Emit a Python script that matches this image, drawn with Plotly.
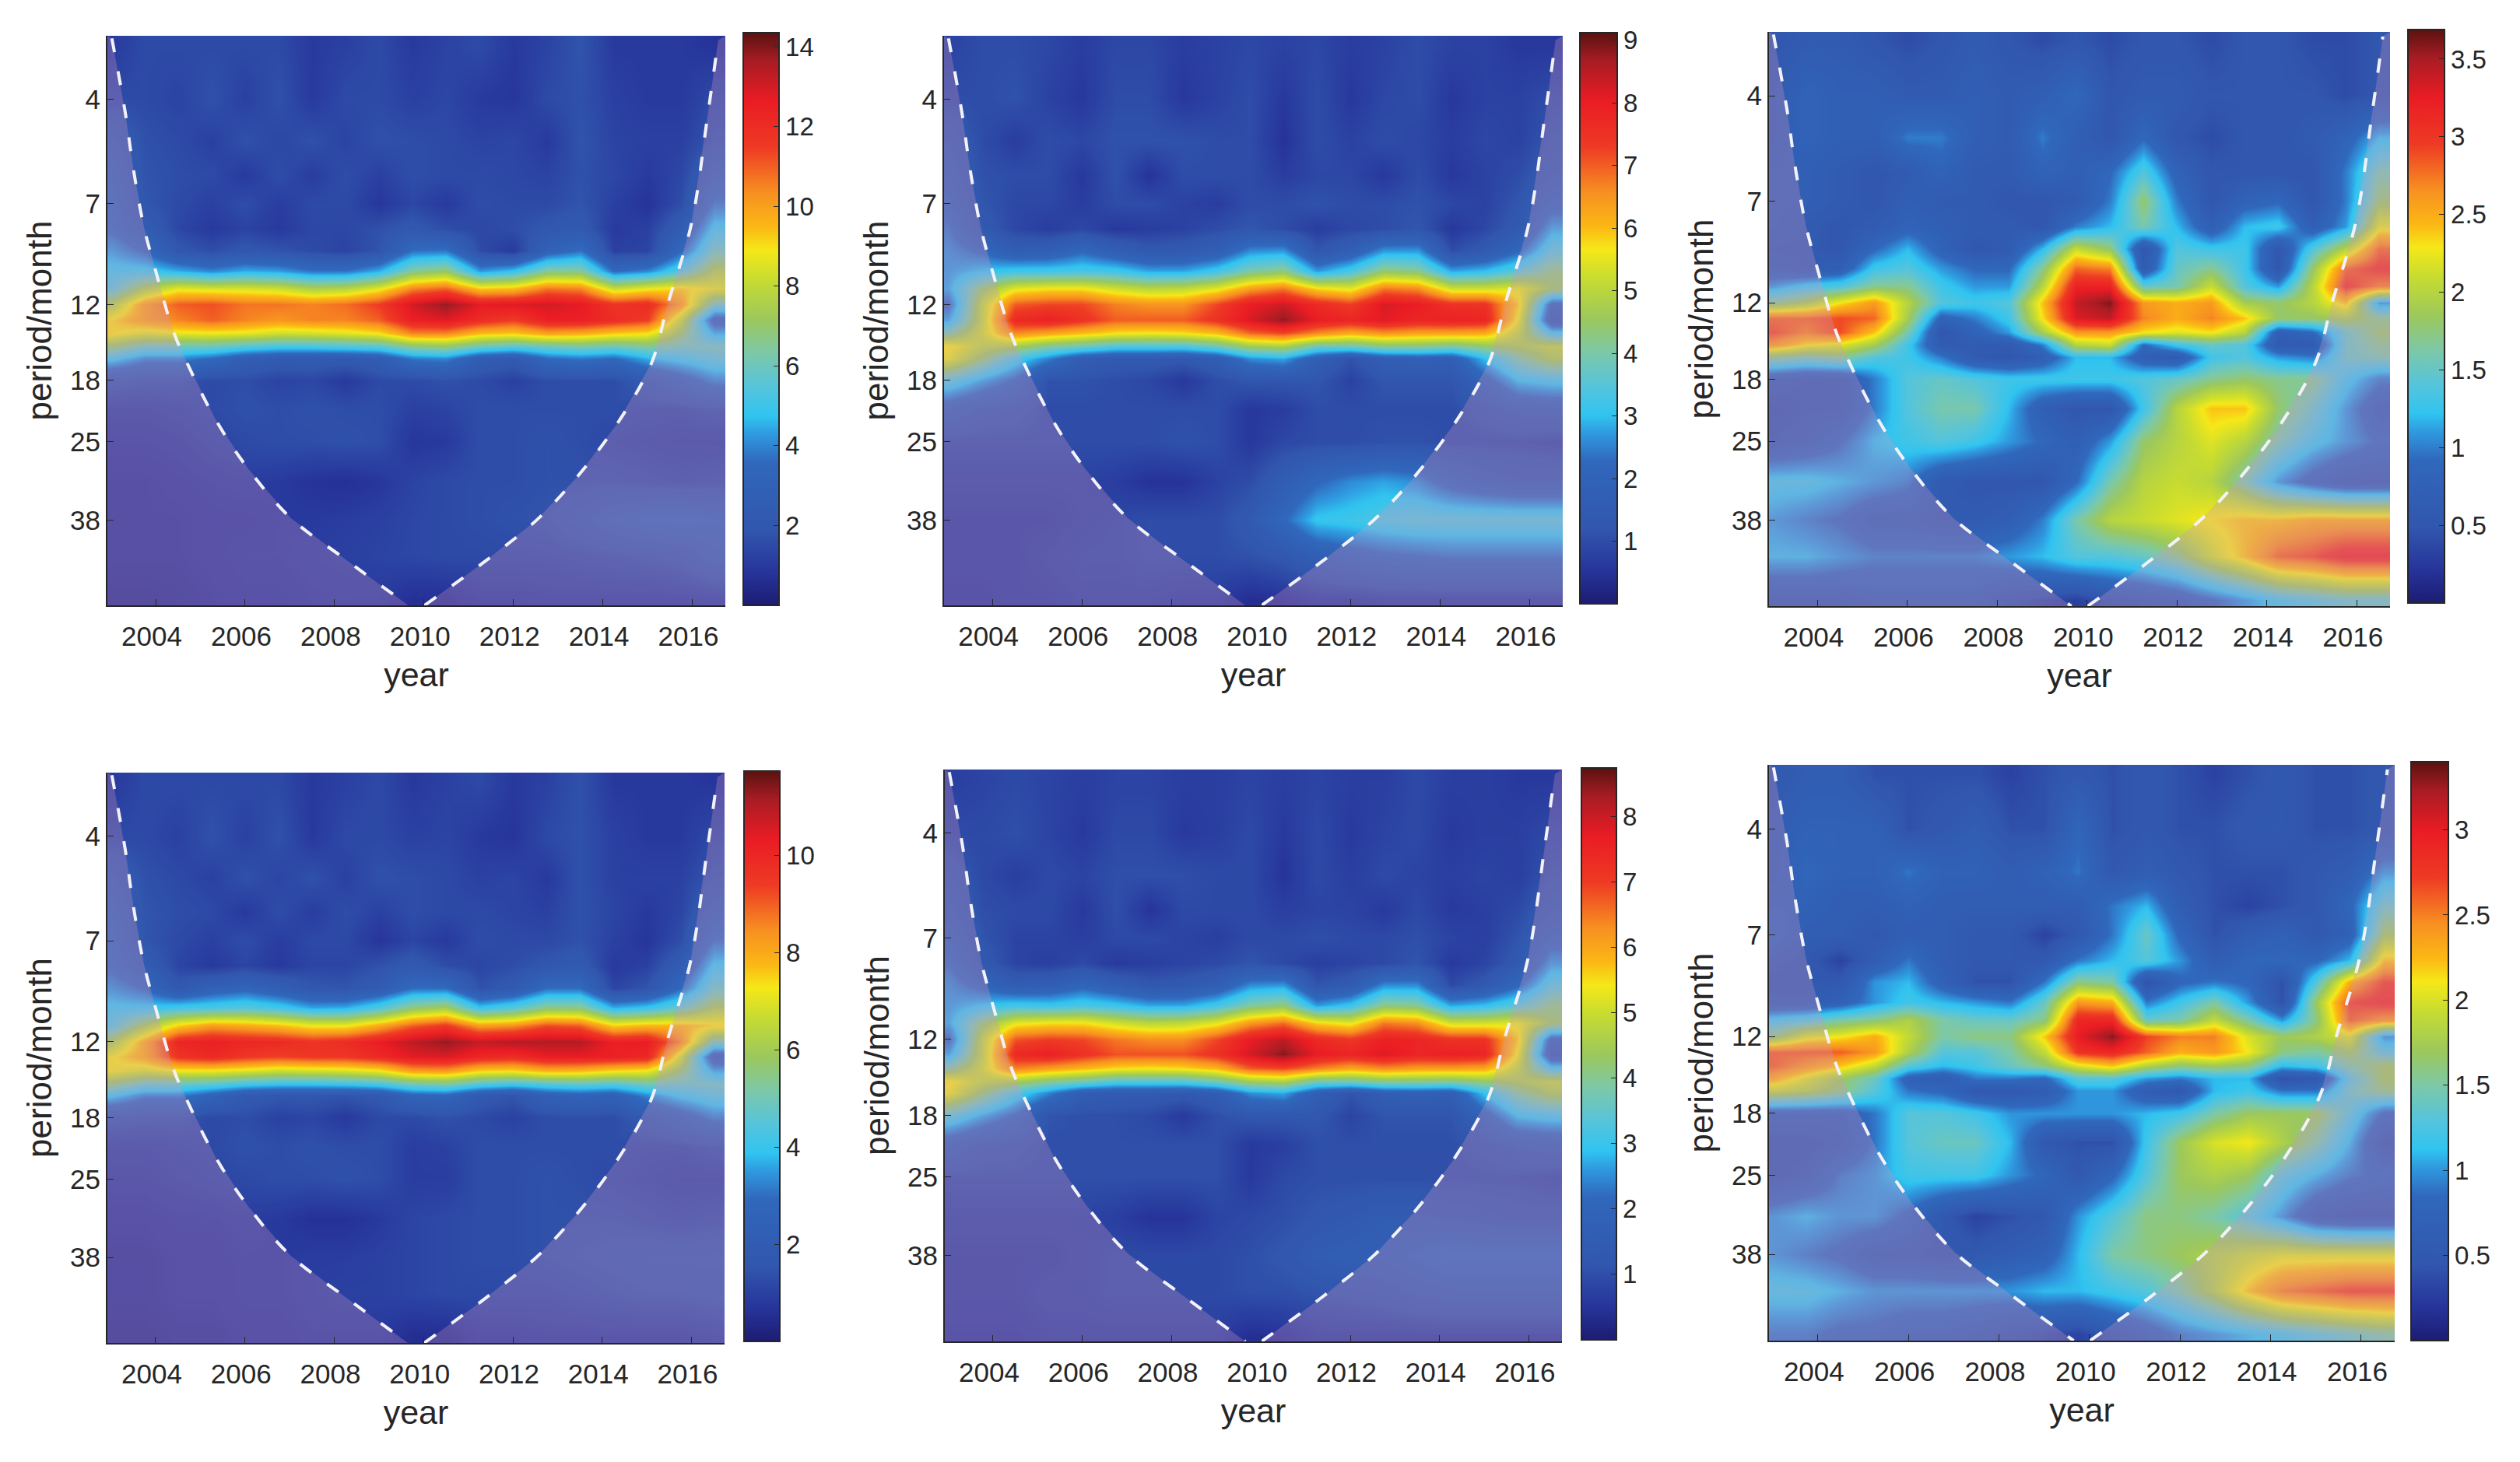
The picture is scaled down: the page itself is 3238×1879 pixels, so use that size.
import plotly.graph_objects as go

W, H = 3238, 1879
years = [2003, 2003.75, 2004.5, 2005.25, 2006, 2006.75, 2007.5, 2008.25, 2009, 2009.75,
         2010.5, 2011.25, 2012, 2012.75, 2013.5, 2014.25, 2015, 2015.75, 2016.5]
periods = [3, 4, 5, 6, 7, 8, 9, 10, 11, 12, 13, 14, 15, 16, 18, 21, 25, 31, 38, 46, 58]
period_ticks = [4, 7, 12, 18, 25, 38]
year_ticks = [2004, 2006, 2008, 2010, 2012, 2014, 2016]

coi_left_years = [2003.02, 2003.32, 2003.5, 2003.74, 2003.98, 2004.39, 2004.69, 2005.35, 2006.07, 2007.02, 2008.22, 2009.65]
coi_left_periods = [2.89, 4.3, 5.8, 7.95, 9.85, 13.8, 16.3, 22.3, 28.9, 37.6, 46.7, 60]
coi_right_years = [2010.01, 2011.32, 2012.52, 2013.41, 2014.31, 2015.09, 2015.45, 2015.98, 2016.34, 2016.58]
coi_right_periods = [60, 47.8, 38, 30.3, 22.8, 16.4, 12, 7.8, 4.4, 2.92]

panel1 = [
 [1,1.5,1.5,1.5,1.5,1.5,1,1.2,1.5,1,1.3,1.5,1,1.3,1.8,1,1,1,.8],
 [1.5,1.5,1.3,1.7,1.2,1.7,1,1.5,1.5,1.2,1.4,1,.9,1.5,1.7,1.2,1,1,1.5],
 [2.5,1.7,1.5,1.2,1.7,1.4,1.7,1.3,1.7,1.6,1.5,1.3,1.4,1,1.8,1.3,1.2,1.2,1.8],
 [3,1.8,1.6,1.5,1,1.6,1.1,1.6,1.2,1.6,1.5,1.5,1.4,1.3,1.7,1.4,1,1.4,2.8],
 [3.3,1.9,1.5,1.2,1.6,1.1,1.5,1.5,.9,1.4,1,1.6,1.5,1.5,1.8,1.2,.8,1.6,3.8],
 [3.5,2.5,1.4,1,1.3,1,1.4,1.4,1.7,2.1,1.6,1.4,1.6,2,2.2,1,1.2,2.5,5],
 [4.3,3.5,2,1.6,2,1.8,1.5,1.3,1.8,3.7,3.8,1.5,1,3,3.7,1.2,1.3,3.5,6],
 [5,5,4.5,4,4.5,4.3,3.7,3.7,4.5,6.5,7,4.2,4.8,6.5,6.5,3.5,4,5.5,7.5],
 [5.5,7.5,8.7,8.5,8.5,8.3,7.6,7.8,8.7,10.5,11,9.3,9.5,10.7,10.5,8.2,8.8,9.2,8.5],
 [7.5,10,11,11.2,10.7,10.7,10.5,10.8,11.5,13,13.8,12.7,12.8,13,12.7,11.7,12,10,6],
 [9,10,10.5,11,10.5,10.2,10.5,10.5,11,12.5,12.8,12,11.5,12.5,12.5,12,11.5,8,3],
 [9,8.5,8.7,8.8,8.7,8.3,8.4,8.6,9,10.5,10.5,9.5,9.3,10,9.8,9.3,9,7,4.5],
 [7,6,6,6,5.5,5.2,5.2,5.4,5.6,6.7,7,6,5.6,6,6.3,6,6.5,6,6],
 [5,4,4,3.5,2.6,2.3,2.3,2.2,2.5,3.8,4,2.5,2.2,3.5,3.8,3.5,4.5,5,5.5],
 [2,1.8,1.8,1.5,1.6,1.3,1.4,1,1.5,1.5,1.7,1.5,1.2,1.6,1.6,1.6,2.2,3,4],
 [1.2,1.2,1.3,1.5,1.7,1.6,1.7,1.6,1.6,1.2,1.3,1.6,1.6,1.6,1.6,1.6,1.5,1.5,1.7],
 [1,1,1.1,1.3,1.5,1.6,1.6,1.7,1.6,.9,1,1.6,1.6,1.7,1.6,1.4,1.3,1.2,1.2],
 [.8,.8,.9,1,1.1,1,.8,.7,.9,1.3,1.5,1.6,1.6,1.7,1.7,1.7,1.6,1.5,1.6],
 [.8,.8,.8,.9,.9,1,1,1.1,1.2,1.4,1.5,1.6,1.7,1.8,2.2,2.8,3.1,3.2,3],
 [.8,.8,.8,.9,1,1,1.1,1.2,1.3,1.4,1.5,1.5,1.5,1.5,1.6,1.7,1.8,2,2.6],
 [.6,.6,.7,.8,.9,.9,1,1,1,.7,.7,1,1,1.1,1.1,1.1,1.1,1.1,1.2],
]
panel2 = [
 [.8,1,1,.9,.7,.9,.9,.7,.8,.9,.8,.9,.7,.8,1,.8,.8,.6,.6],
 [1,1,1.1,.8,.6,1,1,.6,.8,1,.6,1,.6,.9,1,.6,.8,.8,1],
 [1.5,1,.7,1,.9,1.1,1.1,1.1,1,1,.5,1,.8,1,.9,.7,.9,.8,1.2],
 [1.7,1.1,1,1,.6,1.1,.5,1,1,1,.7,.9,.9,.6,1,.6,.8,1,1.5],
 [2,1.2,.9,.9,.7,1,1,.8,.7,1,1,1.1,1,1,1.1,.9,.8,1.2,2],
 [2.4,1.4,.9,.7,.9,.6,.7,.8,1,1.2,1,.7,.9,1,1.2,.6,.9,1.4,2.8],
 [2.6,2.2,1.6,1.7,2.2,1.7,1.3,1.4,1.7,2.6,2.7,1.2,1.7,2.7,2.7,1,1.4,2.2,3.5],
 [2.7,3,3.2,3.2,3.3,3.2,2.8,2.8,3.2,4,4.3,2.7,3.3,4.4,4.2,2.8,3,3.6,4.3],
 [2.8,4.4,5.5,5.7,5.7,5.3,5,5.1,5.5,6.4,6.8,5.8,5.5,6.8,6.6,5.3,5.3,5.5,4.5],
 [2.2,5,7,7.2,7.2,6.7,6.5,6.5,7.2,8,8.3,7.7,7.3,8.2,8,7.5,7.5,5.8,2],
 [2.8,5,7.7,7.9,7.5,7,7,7,7.5,8.2,8.8,8,7.8,8.1,7.8,7.9,7.8,5.5,1.5],
 [4,5.2,6.6,6.3,6,5.7,5.6,5.7,6,6.9,7.2,6.6,6.2,6.5,6.3,6.3,6.2,5,3.2],
 [5.7,5,4.7,4.1,3.8,3.4,3.4,3.4,3.8,4.6,4.8,3.8,3.8,4.2,4.2,4,4.4,4.7,5],
 [5.5,4.4,3.3,2.5,1.6,1.4,1.4,1.3,1.6,2.6,2.8,1.7,1.1,1.7,1.8,1.7,3,4,4.7],
 [3.5,2.8,2.2,1.1,1.1,1,.9,.6,1,1.2,1.2,1.2,.8,1.2,1.2,1.2,2,3,3.2],
 [1.8,1.4,1.3,1,1,1,1,1,1,.6,.7,1,1,1,1,1,1.3,1.6,1.7],
 [1,1,1,1,1,1,1,1.1,1,.6,.9,1,1,1.1,1.1,1,1,1,.9],
 [.8,.8,.8,.8,.8,.7,.5,.5,.8,1,1.6,2.2,2.6,2.8,2.6,2,1.7,1.5,1.5],
 [.7,.7,.7,.7,.8,.9,1,1,1,1.4,2.2,3.1,3.2,3.4,3.5,3.5,3.5,3.5,3.5],
 [.7,.7,.7,.8,.9,.9,1,1,1,1.1,1.3,1.7,2,2.2,2.3,2.4,2.4,2.4,2.4],
 [.6,.6,.7,.7,.8,.8,.8,.7,.7,.4,.5,.7,.7,.8,.8,.8,.8,.8,.8],
]
panel3 = [
 [.5,.6,.6,.5,.4,.5,.6,.5,.4,.5,.4,.5,.5,.4,.5,.5,.4,.4,.5],
 [.6,.8,.7,.7,.6,.6,.7,.6,.7,.9,.5,.6,.6,.5,.5,.5,.5,.4,.5],
 [.6,.8,.7,.7,1,1,.7,.6,1,.7,.5,.9,.5,.4,.5,.5,.6,.8,1.2],
 [.7,.7,.6,.5,.6,.8,.6,.6,.8,.7,.9,1.4,.8,.5,.5,.5,.5,1,1.6],
 [.7,.7,.6,.5,.7,.6,.6,.5,.5,.6,1,1.8,1,.5,.8,.9,.5,1,1.8],
 [.7,.6,.5,.6,.8,.7,.6,.6,.5,1,1.2,1.6,1.2,.7,1.2,1.3,.7,1.1,2.2],
 [.6,.6,.5,.9,1.2,.8,.5,.6,1.2,2.1,1.8,.5,1.4,1.3,1.3,.5,1.4,2,2.8],
 [.7,.6,.7,1.3,1.4,1.1,.9,.9,1.7,2.8,2.7,.6,1.5,1.7,1.3,.5,1.8,2.8,3],
 [1.1,1.3,1.4,1.7,1.7,1.3,1.1,1.1,2,3.2,3.2,1.5,1.6,2.1,1.4,1.1,2,3,2.7],
 [1.7,1.9,2.3,2.6,2,1.4,1.3,1.4,2.4,3.4,3.6,2.6,2.5,2.6,1.9,1.8,2,2.4,1.1],
 [2.8,2.8,2.9,2.8,1.9,.8,1,1.3,2.3,3.3,3.4,2.7,2.5,2.7,2.4,1.8,1.8,1.9,1.7],
 [2.9,2.7,2.9,2.4,1.6,.5,.8,1.1,1.9,2.6,2.6,2.3,2.2,2.3,2,.7,.9,1.5,1.8],
 [2.6,2.3,2.2,1.9,1.3,.6,.6,.6,1,2,2.1,.9,1.3,1.5,1.4,.6,.6,1.5,1.7],
 [1.7,1.6,1.7,1.4,1.3,1,.6,.5,.7,1.2,1.2,.7,.6,1.3,1.4,1.1,1,1.5,1.6],
 [.7,.6,.6,1,1.4,1.5,1.4,1.3,1.3,1.3,1.3,1.4,1.5,1.7,1.8,1.7,1.7,1.3,1],
 [.5,.6,.6,1,1.4,1.6,1.6,1.2,.7,.5,.5,1.3,2,2.4,2.4,1.8,1.5,1.1,.7],
 [.6,.7,.9,1.2,1.3,1.4,1.3,1.1,.9,.7,1.1,1.8,2,2.2,2,1.6,1.3,1.1,.9],
 [1.3,1.3,1.2,1.1,1,.6,.5,.5,.5,.9,1.6,2,2.1,2,1.6,1.1,.8,.6,.6],
 [1.1,1,.9,.7,.7,.6,.6,.7,1,1.6,2,2.1,2.2,2.3,2.4,2.4,2.5,2.5,2.5],
 [1.2,1.2,1.1,1,1,1,1,1.1,1.2,1.4,1.4,1.5,1.7,2.1,2.4,2.8,2.9,3.1,3.1],
 [.6,.6,.6,.7,.7,.7,.7,.5,.4,.3,.5,.6,.7,.9,1.1,1.3,1.4,1.5,1.5],
]
panel4 = [
 [.8,1.2,1.2,1.2,1.2,1.2,.8,1,1.2,.8,1,1.2,.8,1,1.4,.8,.8,.8,.7],
 [1.2,1.2,1,1.4,1,1.4,.8,1.2,1.2,1,1.1,.8,.7,1.2,1.4,1,.8,.8,1.2],
 [2,1.4,1.2,1,1.4,1.1,1.4,1,1.4,1.3,1.2,1,1.1,.8,1.4,1,1,1,1.5],
 [2.4,1.5,1.3,1.2,.8,1.3,.9,1.3,1,1.3,1.2,1.2,1.1,1,1.4,1.1,.8,1.1,2.2],
 [2.7,1.5,1.2,1,1.3,.9,1.2,1.2,.7,1.1,.8,1.3,1.2,1.2,1.4,1,.7,1.3,3],
 [2.8,2,1.1,.8,1.1,.8,1.1,1.1,1.4,1.8,1.3,1.1,1.3,1.6,1.8,.8,1,2,4],
 [3.4,2.9,1.7,2.4,2.7,2.2,1.6,1.5,2,3,3,1.4,1.8,3,3,1.1,1.5,2.9,4.8],
 [4,4,4.2,4.3,4.5,4.2,3.6,3.7,4.4,5.6,6,4,4.5,5.5,5.5,3.7,4,4.8,6],
 [4.4,6,7.5,8.2,8,7.7,7.2,7.2,8,9,9.5,8.2,8.4,9.2,9,7.5,7.8,7.8,7.4],
 [6,8,10,10.2,10,9.9,9.6,9.8,10.3,10.9,11.3,10.8,11,11,11,10.2,10.3,8.5,5],
 [7.2,8,9.6,9.9,9.5,9.3,9.5,9.5,9.9,10.4,10.5,10,9.8,10.3,10.3,10.2,10,6.8,2.2],
 [7.2,6.8,7.2,7.2,7,6.7,6.8,6.9,7.2,8.2,8.3,7.5,7.4,7.9,7.8,7.4,7.2,5.7,3.6],
 [5.6,4.8,4.8,4.6,4.2,4,4,4.1,4.3,5,5.2,4.5,4.2,4.5,4.7,4.5,5,4.8,4.8],
 [4,3.2,3.2,2.5,1.8,1.6,1.6,1.5,1.7,2.6,2.7,1.8,1.5,2.3,2.5,2.3,3.3,4,4.4],
 [1.6,1.5,1.5,1.2,1.3,1,1.1,.8,1.2,1.2,1.4,1.2,1,1.3,1.3,1.3,1.8,2.4,3.2],
 [1,1,1.1,1.2,1.4,1.3,1.4,1.3,1.3,.9,1,1.3,1.3,1.3,1.3,1.3,1.2,1.2,1.4],
 [.9,.9,1,1.1,1.2,1.3,1.3,1.4,1.3,.9,.9,1.3,1.3,1.4,1.3,1.2,1.1,1,1],
 [.7,.7,.8,.8,.9,.8,.6,.6,.8,1.1,1.2,1.3,1.3,1.4,1.4,1.4,1.3,1.2,1.3],
 [.6,.6,.7,.7,.8,.8,.9,.9,1,1.1,1.2,1.3,1.3,1.4,1.5,1.6,1.7,1.7,1.7],
 [.6,.6,.7,.7,.8,.8,.9,1,1,1.1,1.2,1.2,1.2,1.2,1.3,1.4,1.5,1.5,1.6],
 [.5,.5,.6,.6,.7,.7,.8,.8,.8,.5,.5,.8,.8,.9,.9,.9,.9,.9,1],
]
panel5 = [
 [.7,.8,.9,.8,.7,.8,.8,.7,.7,.8,.7,.8,.7,.7,.9,.7,.7,.6,.6],
 [.9,.9,1,.8,.6,.9,.9,.6,.7,.9,.6,.9,.6,.8,.9,.6,.7,.7,.9],
 [1.3,.9,.7,.9,.8,1,1,1,.9,.9,.5,.9,.7,.9,.8,.7,.8,.7,1.1],
 [1.5,1,.9,.9,.6,1,.5,.9,.9,.9,.7,.8,.8,.6,.9,.6,.7,.9,1.4],
 [1.8,1.1,.8,.8,.7,.9,.9,.8,.7,.9,.9,1,.9,.9,1,.8,.7,1.1,1.9],
 [2.2,1.3,.8,.7,.9,.6,.7,.8,.9,1.1,.9,.7,.8,.9,1.1,.6,.8,1.3,2.6],
 [2.5,2,1.5,1.6,2,1.6,1.2,1.3,1.6,2.5,2.6,1.1,1.4,2.5,2.5,.9,1.3,2.1,3.3],
 [2.6,2.9,3.1,3,3.2,3,2.7,2.7,3.1,3.9,4.2,2.6,3,4.1,4,2.7,2.9,3.4,4.1],
 [2.7,4.2,5.3,5.5,5.5,5.1,4.8,4.9,5.3,6.2,6.6,5.6,5.3,6.5,6.3,5.1,5.1,5.3,4.3],
 [2.1,4.8,6.8,7,6.9,6.5,6.3,6.3,6.9,7.7,8.1,7.4,7.1,7.6,7.5,7.2,7.2,5.6,1.9],
 [2.7,4.8,7.4,7.6,7.2,6.8,6.8,6.8,7.2,7.9,8.5,7.7,7.5,7.8,7.5,7.6,7.5,5.3,1.5],
 [3.9,5,6.4,6.1,5.8,5.5,5.4,5.5,5.8,6.7,6.9,6.4,6,6.3,6.1,6.1,6,4.8,3.1],
 [5.5,4.8,4.5,4,3.7,3.3,3.3,3.3,3.7,4.4,4.6,3.7,3.7,4,4,3.9,4.2,4.5,4.8],
 [5.3,4.2,3.2,2.4,1.5,1.4,1.4,1.3,1.5,2.5,2.7,1.6,1.1,1.6,1.7,1.6,2.9,3.9,4.5],
 [3.4,2.7,2.1,1.1,1,1,.9,.6,1,1.2,1.2,1.2,.8,1.1,1.1,1.1,1.9,2.9,3.1],
 [1.7,1.3,1.2,1,1,1,1,1,1,.6,.7,1,1,1,1,1,1.2,1.5,1.6],
 [1,1,1,1,1,1,1,1,1,.6,.9,1,1,1,1,1,1,1,.9],
 [.8,.8,.8,.8,.8,.7,.5,.5,.8,.9,1,1.2,1.3,1.5,1.5,1.4,1.3,1.2,1.2],
 [.7,.7,.7,.7,.8,.9,.9,.9,.9,1,1.2,1.5,1.6,1.7,1.9,2.1,2.1,2.1,2.1],
 [.7,.7,.7,.8,.8,.9,.9,.9,.9,1,1,1.1,1.2,1.3,1.5,1.6,1.6,1.6,1.6],
 [.6,.6,.6,.7,.7,.7,.7,.7,.7,.4,.5,.7,.7,.7,.7,.7,.7,.7,.7],
]
panel6 = [
 [.5,.6,.6,.4,.4,.4,.4,.3,.4,.5,.4,.5,.4,.3,.4,.5,.4,.4,.5],
 [.6,.7,.7,.7,.4,.5,.6,.4,.4,.8,.4,.5,.4,.4,.5,.5,.4,.4,.5],
 [.6,.8,.7,.7,.9,.7,.7,.6,.7,.9,.5,.6,.5,.4,.4,.4,.5,.6,1],
 [.7,.7,.6,.6,.7,.6,.6,.6,.6,.6,.9,1.1,.6,.4,.3,.4,.5,.8,1.4],
 [.8,.6,.6,.5,.6,.6,.5,.5,.3,.5,.9,1.4,.8,.4,.6,.7,.5,.7,1.7],
 [.6,.5,.3,.6,.9,.6,.5,.5,.5,.9,1.1,1.3,1,.6,.8,.8,.8,1.1,2.2],
 [.5,.5,.5,1,1.1,.7,.4,.4,.9,1.6,1.5,.4,.8,.9,.8,.4,1.3,2.3,2.7],
 [.6,.6,.7,1,1.2,1.1,1,.9,1.4,2.4,2.3,.9,1.2,1.5,1,.4,1.7,2.7,2.8],
 [1.2,1.3,1.5,1.6,1.8,1.5,1.4,1.4,1.6,2.9,2.9,1.4,1.5,1.9,1.5,1,1.6,2.6,2.4],
 [1.6,2,2.1,2.3,1.9,1.5,1.6,1.6,2.2,3,3.3,2.7,2.5,2.5,2,1.7,1.8,2,1],
 [2.6,2.6,2.6,2.4,1.8,1.3,1.3,1.5,1.9,2.8,2.9,2.6,2.3,2.4,2.1,1.6,1.5,1.7,1.3],
 [2.6,2.4,2.2,1.9,1.3,1.1,1.2,1.4,1.6,2,2.2,1.8,1.6,1.7,1.6,1.1,1.2,1.5,1.7],
 [2.3,2,1.7,1.4,.7,.6,.9,.9,.8,1.3,1.3,1,.9,1.1,1.1,.4,.5,1.3,1.7],
 [1.9,1.8,1.6,1.3,.9,.8,.5,.5,.6,1,1,.6,.5,1.1,1.2,.9,.9,1.4,1.6],
 [.7,.7,.7,.9,1.3,1.3,1.2,1,1,1,1,1.1,1.2,1.5,1.7,1.7,1.7,1.3,.8],
 [.5,.5,.6,.9,1.3,1.4,1.4,1.1,.5,.4,.4,1.2,1.7,2,2.1,1.8,1.5,1.1,.5],
 [.5,.6,.9,1,1.2,1.2,1.2,1,.8,.5,.8,1.3,1.7,1.8,1.7,1.3,1.1,.9,.8],
 [1,1.1,1,1,.8,.5,.3,.4,.5,1,1.3,1.6,1.6,1.5,1.3,1,.6,.5,.5],
 [1,.9,.8,.6,.6,.5,.5,.6,.7,1.1,1.5,1.6,1.7,1.8,1.9,2,2,2,2],
 [1.2,1.2,1.1,1,1,1,1,1,1.1,1.1,1.2,1.3,1.5,1.8,2.2,2.5,2.6,2.7,2.7],
 [.9,.9,.8,.8,.7,.7,.6,.5,.4,.3,.5,.7,.9,1,1.1,1.2,1.3,1.4,1.5],
]

cb_ticks = [
    [2, 4, 6, 8, 10, 12, 14],
    [1, 2, 3, 4, 5, 6, 7, 8, 9],
    [0.5, 1, 1.5, 2, 2.5, 3, 3.5],
    [2, 4, 6, 8, 10],
    [1, 2, 3, 4, 5, 6, 7, 8],
    [0.5, 1, 1.5, 2, 2.5, 3],
]
z_tops = [14.35, 9.12, 3.69, 11.73, 8.74, 3.4]
panels = [panel1, panel2, panel3, panel4, panel5, panel6]
# pixel boxes: plot left, right, top, bottom; colourbar left, right, top, bottom
boxes = [
    (138, 932, 46, 778, 955, 1001, 42, 778),
    (1213, 2008, 46, 778, 2030, 2078, 42, 776),
    (2273, 3071, 41, 779, 3094, 3141, 38, 775),
    (138, 931, 993, 1726, 956, 1002, 991, 1724),
    (1214, 2007, 989, 1724, 2032, 2077, 987, 1722),
    (2273, 3077, 983, 1723, 3098, 3146, 979, 1723),
]
colors = [
    [0.00, "#1c1c72"], [0.06, "#27359b"], [0.13, "#3156ad"], [0.25, "#3068bc"],
    [0.30, "#2f9be0"], [0.33, "#30c4f0"], [0.38, "#55c4dc"], [0.44, "#7cc8a8"],
    [0.50, "#9cc85c"], [0.57, "#c8dc30"], [0.62, "#f5e818"], [0.66, "#fbb814"],
    [0.72, "#f79021"], [0.80, "#ee3a24"], [0.88, "#ea1c24"], [0.95, "#a81c24"],
    [1.00, "#5a1210"],
]
INK = "#262626"
FONT = "Liberation Sans"
OVERLAY = "rgba(205,150,195,0.30)"

fig = go.Figure()
layout = {}
for i, (z, box, top, ticks) in enumerate(zip(panels, boxes, z_tops, cb_ticks)):
    n = "" if i == 0 else str(i + 1)
    xa, ya = "x" + n, "y" + n
    l, r, t, b, cl, cr, ct, cb = box
    fig.add_trace(go.Heatmap(
        x=years, y=periods, z=z, zmin=0, zmax=top, zsmooth="best",
        colorscale=colors, xaxis=xa, yaxis=ya, hoverinfo="skip",
        colorbar=dict(
            x=cl / W, xanchor="left", xpad=0, y=1 - ct / H, yanchor="top", ypad=0,
            thicknessmode="pixels", thickness=cr - cl, lenmode="pixels", len=cb - ct,
            outlinecolor=INK, outlinewidth=2, tickvals=ticks, ticks="inside", ticklen=8,
            tickcolor=INK, tickfont=dict(family=FONT, size=33, color=INK),
        ),
    ))
    edge_left = dict(x=coi_left_years + [2002.9, 2002.9], y=coi_left_periods + [60, 2.85])
    edge_right = dict(x=coi_right_years + [2016.74, 2016.74], y=coi_right_periods + [2.85, 60])
    for e in (edge_left, edge_right):
        fig.add_trace(go.Scatter(x=e["x"], y=e["y"], mode="none", fill="toself", fillcolor=OVERLAY,
                                 xaxis=xa, yaxis=ya, hoverinfo="skip", showlegend=False))
    for xs, ys in ((coi_left_years, coi_left_periods), (coi_right_years, coi_right_periods)):
        fig.add_trace(go.Scatter(x=xs, y=ys, mode="lines", xaxis=xa, yaxis=ya, hoverinfo="skip",
                                 showlegend=False, line=dict(color="#f2f2f8", width=4, dash="18px,25px", shape="spline")))
    layout["xaxis" + n] = dict(
        domain=[l / W, r / W], range=[2002.92, 2016.74], anchor=ya, tickvals=year_ticks,
        ticks="inside", ticklen=8, tickcolor=INK, showline=True, linecolor=INK, linewidth=2,
        showgrid=False, zeroline=False, ticklabelshift=-5, ticklabelstandoff=8,
        tickfont=dict(family=FONT, size=35, color=INK),
        title=dict(text="year", font=dict(family=FONT, size=43, color=INK), standoff=16),
    )
    layout["yaxis" + n] = dict(
        domain=[1 - b / H, 1 - t / H], type="log", range=[1.778, 0.4548], anchor=xa,
        tickvals=period_ticks, ticktext=[str(p) for p in period_ticks],
        ticks="inside", ticklen=8, tickcolor=INK, showline=True, linecolor=INK, linewidth=2,
        showgrid=False, zeroline=False,
        tickfont=dict(family=FONT, size=35, color=INK),
        title=dict(text="period/month", font=dict(family=FONT, size=44, color=INK), standoff=10),
    )
fig.update_layout(width=W, height=H, margin=dict(l=0, r=0, t=0, b=0), autosize=False,
                  paper_bgcolor="white", plot_bgcolor="white", showlegend=False, **layout)
fig.write_html("out.html", config={"displayModeBar": False},
               post_script="document.body.style.margin='0';")
